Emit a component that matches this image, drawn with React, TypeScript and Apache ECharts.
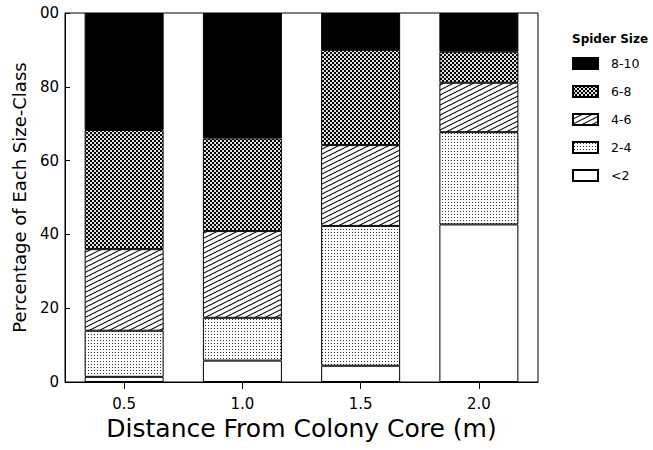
import React, { useEffect, useRef } from "react";
import * as echarts from "echarts";

const categories = ["0.5", "1.0", "1.5", "2.0"];
const sizeClasses = ["<2", "2-4", "4-6", "6-8", "8-10"];
const lt2 = [1.4, 5.8, 4.4, 42.7];
const s2to4 = [12.5, 11.6, 37.9, 25.0];
const s4to6 = [22.1, 23.5, 21.9, 13.4];
const s6to8 = [32.3, 25.1, 25.8, 8.4];
const s8to10 = [31.7, 34.0, 10.0, 10.5];
const yTickLabels = ["0", "20", "40", "60", "80", "00"];
const legendOrder = ["8-10", "6-8", "4-6", "2-4", "<2"];

const FONT = "DejaVu Sans";

function makeTile(w: number, h: number, draw: (ctx: CanvasRenderingContext2D) => void) {
  const c = document.createElement("canvas");
  c.width = w;
  c.height = h;
  const ctx = c.getContext("2d")!;
  ctx.fillStyle = "#fff";
  ctx.fillRect(0, 0, w, h);
  draw(ctx);
  return {
    image: c.toDataURL(),
    repeat: "repeat",
    imageWidth: w,
    imageHeight: h,
  } as any;
}

export default function App() {
  const ref = useRef<HTMLDivElement>(null);
  useEffect(() => {
    if (!ref.current) return;
    const chart = echarts.init(ref.current, null, { renderer: "svg" });

    const hatch = makeTile(10, 5, (ctx) => {
      ctx.strokeStyle = "#000";
      ctx.lineWidth = 1.1;
      for (let k = -1; k <= 1; k++) {
        for (let m = -1; m <= 1; m++) {
          ctx.beginPath();
          ctx.moveTo(0 + k * 10, 5 + m * 5);
          ctx.lineTo(10 + k * 10, 0 + m * 5);
          ctx.stroke();
        }
      }
    });
    const checker = makeTile(4, 4, (ctx) => {
      ctx.fillStyle = "#000";
      ctx.fillRect(0, 0, 4, 4);
      ctx.fillStyle = "#dedede";
      ctx.fillRect(0, 0, 2, 2);
      ctx.fillRect(2, 2, 2, 2);
    });
    const stipple = makeTile(3, 3, (ctx) => {
      ctx.fillStyle = "#333";
      ctx.fillRect(1, 1, 1, 1);
    });

    const fills = ["#ffffff", stipple, hatch, checker, "#000000"];
    const values = [lt2, s2to4, s4to6, s6to8, s8to10];

    const series = sizeClasses.map((name, i) => ({
      name,
      type: "bar",
      stack: "total",
      barWidth: 79,
      data: values[i],
      itemStyle: {
        color: fills[i],
        borderColor: "#000",
        borderWidth: 1,
      },
      emphasis: { disabled: true },
    }));

    chart.setOption({
      animation: false,
      textStyle: { fontFamily: FONT },
      grid: {
        left: 65,
        right: 115,
        top: 13,
        bottom: 68,
        show: true,
        borderColor: "#000",
        borderWidth: 1,
        backgroundColor: "transparent",
      },
      legend: {
        data: legendOrder,
        orient: "vertical",
        left: 572,
        top: 57,
        icon: "rect",
        itemWidth: 25,
        itemHeight: 11,
        itemGap: 15,
        padding: 0,
        selectedMode: false,
        textStyle: {
          fontFamily: FONT,
          fontSize: 12.5,
          color: "#000",
          padding: [0, 0, 0, 8],
        },
      },
      graphic: [
        {
          type: "text",
          left: 572,
          top: 33,
          style: {
            text: "Spider Size",
            font: `bold 12px "${FONT}"`,
            fill: "#000",
          },
        },
      ],
      xAxis: {
        type: "category",
        data: categories,
        axisLine: { show: true, lineStyle: { color: "#000", width: 1 } },
        axisTick: { show: true, alignWithLabel: true, length: 7, lineStyle: { color: "#000" } },
        axisLabel: { fontSize: 15, color: "#000", margin: 14, fontFamily: FONT },
        name: "Distance From Colony Core (m)",
        nameLocation: "middle",
        nameGap: 31,
        nameTextStyle: { fontSize: 25, color: "#000", fontFamily: FONT },
      },
      yAxis: {
        type: "value",
        min: 0,
        max: 100,
        interval: 20,
        splitLine: { show: false },
        axisLine: { show: true, lineStyle: { color: "#000", width: 1 } },
        axisTick: { show: true, inside: true, length: 5, lineStyle: { color: "#000" } },
        axisLabel: {
          fontSize: 15,
          color: "#000",
          margin: 6,
          fontFamily: FONT,
          formatter: (v: number) => yTickLabels[Math.round(v / 20)],
        },
        name: "Percentage of Each Size-Class",
        nameLocation: "middle",
        nameGap: 37,
        nameTextStyle: { fontSize: 18, color: "#000", fontFamily: FONT },
      },
      series,
    });

    return () => chart.dispose();
  }, []);

  return (
    <div
      ref={ref}
      style={{ position: "fixed", left: 0, top: 0, width: 653, height: 450, background: "#fff" }}
    />
  );
}
